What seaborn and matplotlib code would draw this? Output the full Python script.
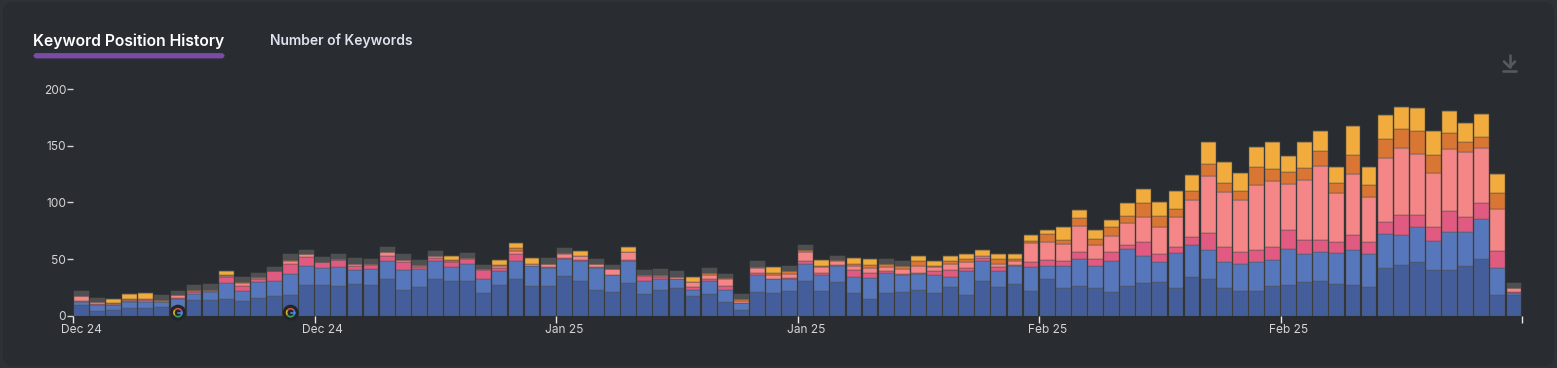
import numpy as np
import pandas as pd
import matplotlib
matplotlib.use("Agg")
import matplotlib.pyplot as plt
import seaborn as sns
from matplotlib.patches import Arc, Circle, FancyBboxPatch, Rectangle
from matplotlib.lines import Line2D
from matplotlib.transforms import IdentityTransform

# keyword counts per bar, one list per position group
pos_1_3 = [9, 4, 5, 7, 7, 8, 8, 14, 14, 15, 13, 16, 17, 18, 27, 27, 26, 28, 27, 32, 23, 25, 32, 31, 31, 20, 27, 32, 26, 26,
           35, 31, 23, 21, 29, 19, 23, 24, 17, 19, 12, 5, 21, 20, 22, 31, 22, 30, 20, 15, 20, 21, 23, 20, 25, 18, 31, 25, 28, 22,
           32, 24, 26, 24, 21, 26, 29, 30, 24, 34, 32, 24, 22, 22, 26, 27, 30, 31, 28, 27, 25, 42, 45, 47, 40, 40, 44, 50, 18, 18]
pos_4_10 = [3, 5, 4, 5, 5, 4, 7, 5, 7, 14, 9, 14, 14, 19, 17, 15, 17, 12, 14, 16, 17, 16, 16, 12, 15, 12, 12, 16, 18, 16,
            15, 17, 19, 15, 19, 12, 9, 8, 6, 12, 11, 6, 15, 12, 10, 15, 14, 14, 14, 18, 18, 15, 14, 16, 9, 21, 17, 14, 16, 21,
            12, 20, 24, 20, 27, 33, 24, 17, 31, 28, 26, 23, 24, 25, 23, 32, 24, 25, 27, 31, 29, 30, 26, 31, 26, 34, 30, 35, 24, 2]
pos_11_20 = [1, 1, 0, 1, 2, 0, 1, 2, 1, 5, 4, 2, 8, 9, 8, 5, 6, 4, 4, 5, 7, 2, 3, 4, 4, 8, 3, 6, 0, 1,
             1, 1, 1, 0, 1, 4, 2, 0, 2, 1, 3, 0, 2, 0, 1, 2, 2, 1, 6, 5, 1, 1, 1, 3, 6, 3, 3, 4, 1, 4,
             5, 4, 6, 6, 8, 3, 12, 7, 6, 7, 15, 14, 10, 11, 12, 17, 13, 11, 10, 13, 11, 11, 18, 11, 12, 18, 13, 14, 15, 1]
pos_21_50 = [4, 2, 1, 1, 1, 1, 2, 1, 1, 1, 3, 1, 0, 2, 2, 0, 0, 2, 1, 3, 2, 1, 2, 1, 1, 1, 2, 3, 2, 3,
             3, 4, 3, 5, 7, 1, 1, 2, 5, 4, 6, 2, 4, 4, 4, 8, 5, 3, 4, 4, 4, 4, 6, 4, 6, 5, 2, 3, 3, 17,
             16, 15, 23, 12, 14, 20, 22, 24, 26, 33, 50, 48, 46, 57, 58, 40, 53, 65, 43, 54, 40, 56, 59, 54, 48, 55, 57, 49, 37, 3]
pos_51_75 = [0, 0, 1, 1, 0, 1, 0, 1, 0, 1, 1, 1, 0, 1, 0, 0, 1, 0, 0, 0, 0, 1, 0, 1, 0, 0, 1, 3, 0, 0,
             1, 0, 0, 0, 0, 0, 1, 0, 0, 2, 1, 2, 1, 2, 2, 2, 1, 1, 2, 3, 3, 3, 4, 1, 2, 3, 0, 4, 2, 2,
             7, 4, 7, 6, 8, 6, 12, 10, 7, 8, 11, 8, 8, 16, 10, 11, 10, 13, 9, 17, 10, 17, 17, 20, 16, 14, 9, 10, 14, 0]
pos_76_100 = [0, 0, 4, 4, 5, 0, 0, 0, 0, 3, 0, 0, 0, 0, 0, 0, 0, 0, 0, 0, 0, 0, 0, 4, 0, 0, 4, 4, 5, 0,
              0, 4, 0, 0, 5, 0, 0, 0, 4, 0, 0, 0, 0, 5, 0, 0, 5, 0, 5, 5, 0, 0, 5, 4, 5, 4, 5, 4, 4, 5,
              4, 11, 7, 8, 6, 11, 13, 12, 16, 14, 19, 19, 16, 18, 24, 14, 23, 18, 14, 25, 16, 21, 19, 20, 21, 20, 17, 20, 17, 0]
pos_rest = [5, 4, 0, 0, 0, 4, 4, 4, 5, 0, 4, 4, 4, 5, 4, 5, 4, 5, 4, 5, 5, 4, 4, 0, 4, 4, 0, 0, 0, 5,
            5, 0, 4, 4, 0, 4, 5, 5, 0, 4, 4, 4, 5, 0, 5, 4, 0, 4, 0, 0, 4, 4, 0, 0, 0, 0, 0, 0, 0, 0,
            0, 0, 0, 0, 0, 0, 0, 0, 0, 0, 0, 0, 0, 0, 0, 0, 0, 0, 0, 0, 0, 0, 0, 0, 0, 0, 0, 0, 0, 5]

series_names = ["1-3", "4-10", "11-20", "21-50", "51-75", "76-100", "rest"]
series_colors = ["#445E9B", "#5777BD", "#E05A82", "#F48687", "#D97634", "#F2AC3D", "#4D4F52"]
date_labels = ["Dec 24", "Dec 24", "Jan 25", "Jan 25", "Feb 25", "Feb 25"]
label_bars = [1, 16, 31, 46, 61, 76]
y_ticks = [0, 50, 100, 150, 200]
google_bars = [7, 14]

BG = "#292C31"

rows = []
for name, vals in zip(series_names, [pos_1_3, pos_4_10, pos_11_20, pos_21_50, pos_51_75, pos_76_100, pos_rest]):
    for i, v in enumerate(vals):
        rows.append({"bar": i + 1, "series": name, "count": v})
df = pd.DataFrame(rows)

sns.set_theme(style="dark")
plt.rcParams["font.family"] = ["Inter", "DejaVu Sans"]

fig = plt.figure(figsize=(15.57, 3.68), dpi=100, facecolor="#2E3136")
W, H = 1557, 368
fig.add_artist(FancyBboxPatch((3, 2), W - 6, H - 4, boxstyle="round,pad=0,rounding_size=10",
                              transform=IdentityTransform(), fc=BG, ec="none", zorder=-5))

ax = fig.add_axes([73.3 / W, (H - 315.7) / H, 1448.7 / W, 226.7 / H])
ax.patch.set_alpha(0)

# seaborn puts the first hue level on top of the stack, so reverse
sns.histplot(data=df, x="bar", weights="count", hue="series", hue_order=series_names[::-1],
             palette=dict(zip(series_names, series_colors)), multiple="stack", discrete=True,
             shrink=0.92, alpha=1, edgecolor="#55534C", linewidth=0.35, legend=False, ax=ax)

ax.set_xlim(0.5, 90.5)
ax.set_ylim(0, 200)
ax.set_xlabel("")
ax.set_ylabel("")
for s in ax.spines.values():
    s.set_visible(False)

ax.set_xticks(label_bars)
ax.set_xticklabels(date_labels, fontsize=8.6, color="#D5D5D5")
ax.tick_params(axis="x", which="major", length=0, pad=6)
ax.set_xticks([b - 0.5 for b in label_bars] + [90.5], minor=True)
ax.tick_params(axis="x", which="minor", length=5, width=1, color="#E8E8E8", direction="out", bottom=True)
ax.set_yticks(y_ticks)
ax.set_yticklabels([str(t) for t in y_ticks], fontsize=8.6, color="#D5D5D5")
ax.tick_params(axis="y", length=4, width=1, color="#D5D5D5", pad=1, left=True)

# tabs
fig.text(33 / W, (H - 41) / H, "Keyword Position History", fontsize=11.3, fontweight="semibold",
         color="#FFFFFF", va="center", ha="left")
fig.text(270 / W, (H - 41) / H, "Number of Keywords", fontsize=10, fontweight="semibold",
         color="#DDE2EE", va="center", ha="left")
fig.add_artist(FancyBboxPatch((35, H - 57), 188, 2.5, boxstyle="round,pad=0,rounding_size=1.5",
                              mutation_aspect=1, transform=IdentityTransform(), fc="#7B4BA8", ec="#7B4BA8", lw=2))

# download icon
grey = "#56595D"
for xs, ys in [([1502.5, 1516], [70.5, 70.5]), ([1509.5, 1509.5], [55, 67]),
               ([1504, 1509.5], [61.5, 67]), ([1515, 1509.5], [61.5, 67])]:
    fig.add_artist(Line2D(xs, [H - y for y in ys], color=grey, lw=1.9, transform=IdentityTransform()))

# google markers
fig.canvas.draw()
for b in google_bars:
    px, py = ax.transData.transform((b, 0))
    py += 3
    fig.add_artist(Circle((px, py), 8, fc="#22252A", ec="none", transform=IdentityTransform(), zorder=10))
    for start, end, col in [(35, 140, "#D8503F"), (140, 215, "#E2B21E"), (215, 315, "#3FA356"), (315, 395, "#4A86E8")]:
        fig.add_artist(Arc((px, py), 8, 8, theta1=start, theta2=end, color=col, lw=1.2,
                           transform=IdentityTransform(), zorder=11))
    fig.add_artist(Line2D([px, px + 4], [py, py], color="#4A86E8", lw=1.2, transform=IdentityTransform(), zorder=11))

fig.savefig("out.png", dpi=100, facecolor=fig.get_facecolor())
